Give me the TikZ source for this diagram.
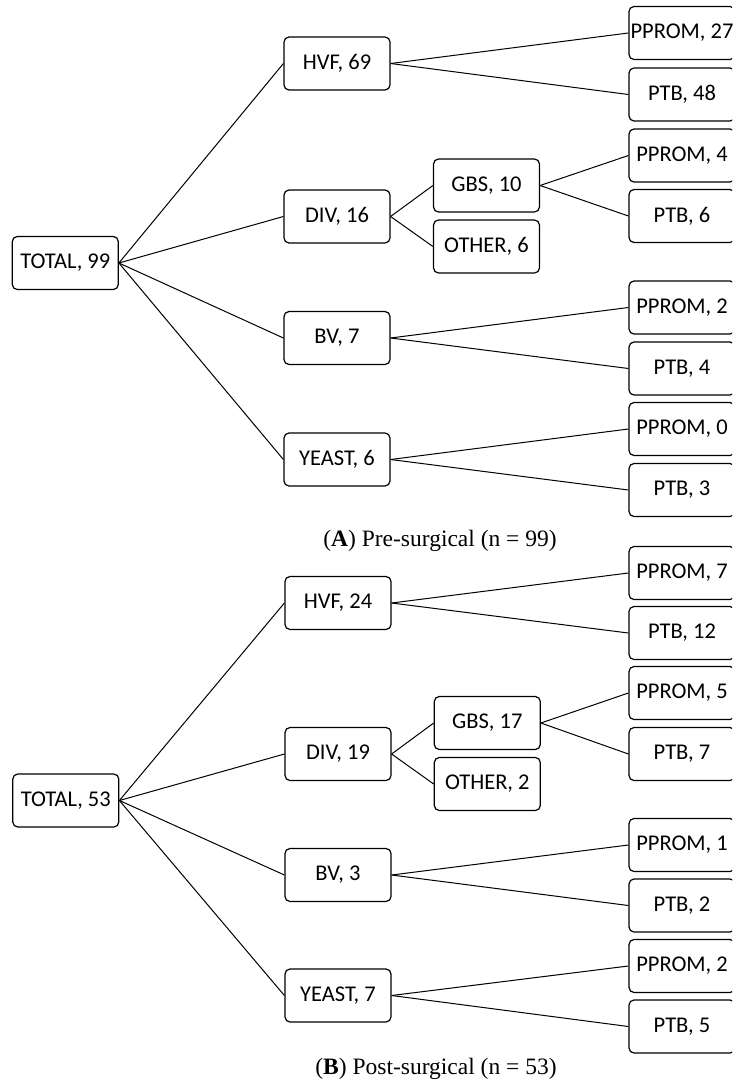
\documentclass[tikz,border=0pt]{standalone}
\usepackage{fontspec}
\setmainfont{Liberation Serif}
\newfontfamily\boxfont{Carlito}
\begin{document}
\begin{tikzpicture}[x=1pt,y=1pt,
  box/.style={draw=black, line width=1.2pt, rounded corners=5pt, minimum width=106pt, minimum height=53pt, inner sep=0pt, font=\boxfont\fontsize{22.5}{25}\selectfont},
  link/.style={draw=black, line width=1pt},
  captext/.style={anchor=base, font=\fontsize{23.5}{26}\selectfont}]
\clip (0,0) rectangle (732,-1081);
\fill[white] (0,0) rectangle (732,-1081);
% Panel A
\begin{scope}
\node[box] (aT) at (65.3,-263) {TOTAL, 99};
\node[box] (aH) at (337,-63.5) {HVF, 69};
\node[box] (aD) at (337,-216.5) {DIV, 16};
\node[box] (aG) at (486.5,-185.5) {GBS, 10};
\node[box] (aO) at (486.5,-246.5) {OTHER, 6};
\node[box] (aB) at (337,-338) {BV, 7};
\node[box] (aY) at (337,-459.5) {YEAST, 6};
\node[box] (aHp) at (682,-33) {PPROM, 27};
\node[box] (aHt) at (682,-94.5) {PTB, 48};
\node[box] (aGp) at (682,-155.5) {PPROM, 4};
\node[box] (aGt) at (682,-216) {PTB, 6};
\node[box] (aBp) at (682,-307.5) {PPROM, 2};
\node[box] (aBt) at (682,-368.5) {PTB, 4};
\node[box] (aYp) at (682,-429) {PPROM, 0};
\node[box] (aYt) at (682,-490) {PTB, 3};
\draw[link] (aT.east) -- (aH.west);
\draw[link] (aT.east) -- (aD.west);
\draw[link] (aT.east) -- (aB.west);
\draw[link] (aT.east) -- (aY.west);
\draw[link] (aD.east) -- (aG.west);
\draw[link] (aD.east) -- (aO.west);
\draw[link] (aH.east) -- (aHp.west);
\draw[link] (aH.east) -- (aHt.west);
\draw[link] (aG.east) -- (aGp.west);
\draw[link] (aG.east) -- (aGt.west);
\draw[link] (aB.east) -- (aBp.west);
\draw[link] (aB.east) -- (aBt.west);
\draw[link] (aY.east) -- (aYp.west);
\draw[link] (aY.east) -- (aYt.west);
\node[captext] (capA) at (440,-546.7) {(\textbf{A}) Pre-surgical (n = 99)};
\end{scope}
% Panel B
\begin{scope}
\node[box] (bT) at (65.8,-800.5) {TOTAL, 53};
\node[box] (bH) at (338,-603) {HVF, 24};
\node[box] (bD) at (338,-754) {DIV, 19};
\node[box] (bG) at (487.3,-723) {GBS, 17};
\node[box] (bO) at (487.3,-784) {OTHER, 2};
\node[box] (bB) at (338,-875) {BV, 3};
\node[box] (bY) at (338,-995.5) {YEAST, 7};
\node[box] (bHp) at (682,-573) {PPROM, 7};
\node[box] (bHt) at (682,-633) {PTB, 12};
\node[box] (bGp) at (682,-693) {PPROM, 5};
\node[box] (bGt) at (682,-754) {PTB, 7};
\node[box] (bBp) at (682,-845) {PPROM, 1};
\node[box] (bBt) at (682,-905.5) {PTB, 2};
\node[box] (bYp) at (682,-966) {PPROM, 2};
\node[box] (bYt) at (682,-1026.5) {PTB, 5};
\draw[link] (bT.east) -- (bH.west);
\draw[link] (bT.east) -- (bD.west);
\draw[link] (bT.east) -- (bB.west);
\draw[link] (bT.east) -- (bY.west);
\draw[link] (bD.east) -- (bG.west);
\draw[link] (bD.east) -- (bO.west);
\draw[link] (bH.east) -- (bHp.west);
\draw[link] (bH.east) -- (bHt.west);
\draw[link] (bG.east) -- (bGp.west);
\draw[link] (bG.east) -- (bGt.west);
\draw[link] (bB.east) -- (bBp.west);
\draw[link] (bB.east) -- (bBt.west);
\draw[link] (bY.east) -- (bYp.west);
\draw[link] (bY.east) -- (bYt.west);
\node[captext] (capB) at (436,-1074) {(\textbf{B}) Post-surgical (n = 53)};
\end{scope}
\end{tikzpicture}
\end{document}
